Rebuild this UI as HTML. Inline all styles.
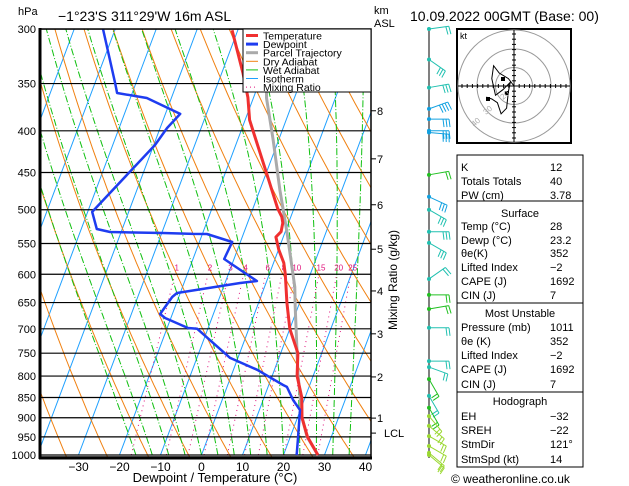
<!DOCTYPE html>
<html><head><meta charset="utf-8"><style>
html,body{margin:0;padding:0;background:#fff;}
svg{display:block;font-family:"Liberation Sans",sans-serif;}
</style></head><body>
<svg id="chart" width="629" height="486" viewBox="0 0 629 486" xmlns="http://www.w3.org/2000/svg">
<defs><clipPath id="plotclip"><rect x="40" y="29" width="331" height="428"/></clipPath></defs>
<rect width="629" height="486" fill="#fff"/>
<g id="bg" clip-path="url(#plotclip)"></g>
<g id="prof" clip-path="url(#plotclip)"></g>
<g id="axes"></g>
<g id="legend"></g>
<g id="wind"></g>
<g id="hodo"></g>
<g id="table"></g>
<text x="18" y="15" font-size="11">hPa</text>
<text x="58" y="21" font-size="14">−1°23'S  311°29'W  16m  ASL</text>
<text x="374" y="14" font-size="11">km</text>
<text x="374" y="27" font-size="11">ASL</text>
<text x="410" y="21" font-size="14">10.09.2022  00GMT  (Base: 00)</text>
<text x="215" y="482" font-size="13" text-anchor="middle">Dewpoint / Temperature (°C)</text>
<text transform="translate(397,280) rotate(-90)" font-size="12" text-anchor="middle">Mixing Ratio (g/kg)</text>
<text x="451" y="483" font-size="12">© weatheronline.co.uk</text>
</svg>
<script>
const tempP=[301,340,364,388,410,451,498,510,519,532,540,560,581,600,650,700,750,800,850,900,950,1000];
const tempT=[-31.4,-24.8,-21.4,-18.9,-15.6,-9.9,-4.0,-2.2,-1.4,-1.0,-1.8,0.1,2.5,3.9,6.9,10.0,14.2,16.1,19.2,21.1,24.2,28.4];
const dewP=[300,349.5,359.5,364.6,381.4,396.9,416.4,503,528,532.4,534,535.4,535.5,547.7,574.7,584.5,611.6,615,632.6,639.8,671.3,678.9,698.4,700,760,786,820.5,825,856,880.5,950,991.5,1000];
const dewT=[-63.0,-55.1,-53.7,-46.0,-36.4,-38.3,-39.7,-48.9,-46.2,-42.7,-29.7,-22.3,-18.9,-12.0,-12.4,-9.7,-2.4,-6.3,-20.8,-21.6,-23.0,-21.4,-14.9,-12.6,-1.9,5.8,13.5,14.6,17.3,19.9,21.9,23.0,23.2];
const parcelP=[359,364.6,410,473,533,622,658,793,898,950,1000];
const parcelT=[-17.3,-16.8,-11.4,-5.1,0.5,7.4,9.3,16.0,21.0,24.1,28.4];
const pressureTicks=[300,350,400,450,500,550,600,650,700,750,800,850,900,950,1000];
const tempTicks=[-30,-20,-10,0,10,20,30,40];
const mixRatios=[1,2,3,4,6,8,10,15,20,25];
const kmLabels=["8","7","6","5","4","3","2","1","LCL"];
const kmP=[378,433,493,559,629,710,802,901,940];
const windP=[300,327,354,376,387,400,402,453,482,500,532,549,608,636,662,698,767,780,807,846,875,896,921,948,975,994,1000];
const windAng=[-8,35,-10,-20,0,0,5,-10,25,30,0,30,-35,0,-10,0,0,20,60,60,60,50,40,30,30,40,40];
const windBarbs=[2,3,3,4,3,3,3,2,3,3,3,3,2,2,2,2,2,2,2,2,2,2,2,2,2,2,2];
const hodoU=[0,-3,-8,-11,-12,-10,-6,-2,-3,-4,-7,-9,-12,-15];
const hodoV=[0,-4,-7,-11,-4,5,2,-2,3,12,15,9,7,6];

const NS="http://www.w3.org/2000/svg";
function el(tag,attrs,parent){const e=document.createElementNS(NS,tag);for(const k in attrs)e.setAttribute(k,attrs[k]);parent.appendChild(e);return e;}
function Y(p){return 29+426*Math.log(p/300)/Math.log(10/3);}
function X(T,p){return 201.5+4.1*T+0.375*(455-Y(p));}
const bg=document.getElementById('bg'),prof=document.getElementById('prof'),axes=document.getElementById('axes');

for(let t=-110;t<=40;t+=10){const l=el('line',{x1:X(t,1000),y1:Y(1000),x2:X(t,300),y2:Y(300),stroke:'#1ea0ff','stroke-width':1},bg);

}
for(let th=230;th<=470;th+=10){let d='';for(let p=1050;p>=290;p-=10){const T=th*Math.pow(p/1000,0.286)-273.15;d+=(d?'L':'M')+X(T,p).toFixed(1)+','+Y(p).toFixed(1);}
const l=el('path',{d:d,fill:'none',stroke:'#f08010','stroke-width':1},bg);

}
function rs(T,p){const e=6.112*Math.exp(17.67*(T-273.15)/(T-29.65));return 0.622*e/(p-e);}
for(let t0=-16;t0<=36;t0+=4){let T=t0+273.15,p=1000,d='M'+X(t0,1000).toFixed(1)+','+Y(1000).toFixed(1);
while(p>290){const r=rs(T,p);const dT=(1/p)*(287*T+2.5e6*r)/(1004+2.5e6*2.5e6*r*0.622/(287*T*T));T-=dT*5;p-=5;d+='L'+X(T-273.15,p).toFixed(1)+','+Y(p).toFixed(1);}
const l=el('path',{d:d,fill:'none',stroke:'#10c010','stroke-width':1,'stroke-dasharray':'7,2,1,2'},bg);

}
function tdw(w,p){const e=w*p/(622+w);const a=Math.log(e/6.112);return 243.5*a/(17.67-a);}
mixRatios.forEach(w=>{const l=el('line',{x1:X(tdw(w,1000),1000),y1:Y(1000),x2:X(tdw(w,600),600),y2:Y(600),stroke:'#e0107a','stroke-width':1,'stroke-dasharray':'1,4'},bg);


const t=el('text',{x:X(tdw(w,600),600)+2,y:Y(600)-4,fill:'#e0107a','font-size':8,'text-anchor':'middle'},bg);t.textContent=w;

});
pressureTicks.forEach(p=>{const l=el('line',{x1:40,x2:371,y1:Y(p),y2:Y(p),stroke:'#000','stroke-width':1.2},bg);

});
function poly(P,T,col,w,name){const pts=P.map((p,i)=>X(T[i],p).toFixed(1)+','+Y(p).toFixed(1)).join(' ');
const l=el('polyline',{points:pts,fill:'none',stroke:col,'stroke-width':w,'stroke-linejoin':'round'},prof);

}
poly(parcelP,parcelT,'#aaaaaa',3,'parcel-trajectory');
poly(tempP,tempT,'#f03030',3,'temperature-line');
poly(dewP,dewT,'#1e3cf0',2.5,'dewpoint-line');
const fr=el('rect',{x:40,y:29,width:331,height:428,fill:'none',stroke:'#000','stroke-width':1.5},axes);


el('line',{x1:40,y1:28,x2:40,y2:459,stroke:'#000','stroke-width':3},axes);
el('line',{x1:39,y1:458,x2:372,y2:458,stroke:'#000','stroke-width':3},axes);
pressureTicks.forEach(p=>{const t=el('text',{x:36,y:Y(p)+4,'font-size':11,'text-anchor':'end'},axes);t.textContent=p;

});
tempTicks.forEach(tv=>{const t=el('text',{x:X(tv,1000),y:471,'font-size':12,'text-anchor':'middle'},axes);t.textContent=(tv<0?'−'+(-tv):tv);

});
kmLabels.forEach((k,i)=>{const y=Y(kmP[i]);el('line',{x1:371,x2:376,y1:y,y2:y,stroke:'#000'},axes);
const t=el('text',{x:k==='LCL'?384:377,y:y+4,'font-size':11},axes);t.textContent=k;

});
const lg=document.getElementById('legend');
el('rect',{x:243,y:29,width:128,height:63,fill:'#fff',stroke:'#000','stroke-width':1},lg);
const legN=['Temperature','Dewpoint','Parcel Trajectory','Dry Adiabat','Wet Adiabat','Isotherm','Mixing Ratio'];
const legC=['#f03030','#1e3cf0','#aaaaaa','#f08010','#10c010','#1ea0ff','#e0107a'];
const legW=[3,3,3,1,1,1,1];
legN.forEach((n,i)=>{const y=35.5+i*8.6;const ln=el('line',{x1:246,x2:258,y1:y,y2:y,stroke:legC[i],'stroke-width':legW[i]},lg);if(i==6)ln.setAttribute('stroke-dasharray','1,3');
const t=el('text',{x:263,y:y+4,'font-size':10.5},lg);t.textContent=n;

});
const wd=document.getElementById('wind');
el('line',{x1:429,y1:29,x2:429,y2:458,stroke:'#000','stroke-width':1},wd);
windP.forEach((p,i)=>{const y=Y(p),a=windAng[i]*Math.PI/180;const col=i>=21?'#9ad830':(i==7||i==13||i==14||(i>=18&&i%2==0)?'#20c020':((i>=3&&i<=6)||i==8?'#10a0e0':'#20c0b0'));
el('circle',{cx:429,cy:y,r:2,fill:col},wd);const ex=429+20*Math.cos(a),ey=y+20*Math.sin(a);
const sh=el('line',{x1:429,y1:y,x2:ex,y2:ey,stroke:col,'stroke-width':1},wd);


for(let k=0;k<windBarbs[i];k++){const bx=ex-k*3*Math.cos(a),by=ey-k*3*Math.sin(a);el('line',{x1:bx,y1:by,x2:bx-8*Math.sin(a)+1,y2:by+8*Math.cos(a),stroke:col,'stroke-width':1},wd);}});
const hd=document.getElementById('hodo');const cx=514,cy=86;
el('rect',{x:457,y:29,width:114,height:114,fill:'#fff',stroke:'#000','stroke-width':2},hd);
[18.5,37,56].forEach(r=>el('circle',{cx:cx,cy:cy,r:r,fill:'none',stroke:'#999','stroke-width':1},hd));
el('line',{x1:458,x2:570,y1:cy,y2:cy,stroke:'#000'},hd);el('line',{x1:cx,x2:cx,y1:30,y2:142,stroke:'#000'},hd);
for(let k=-10;k<=10;k++){if(!k)continue;el('line',{x1:cx+k*5.2,x2:cx+k*5.2,y1:cy-2,y2:cy+2,stroke:'#000'},hd);el('line',{y1:cy+k*5.2,y2:cy+k*5.2,x1:cx-2,x2:cx+2,stroke:'#000'},hd);}
const kt=el('text',{x:460,y:39,'font-size':9},hd);kt.textContent='kt';
const hp=hodoU.map((u,i)=>(cx+u*1.85).toFixed(1)+','+(cy+hodoV[i]*1.85).toFixed(1)).join(' ');
const ht=el('polyline',{points:hp,fill:'none',stroke:'#000','stroke-width':1},hd);


[[503,79],[507,93],[488,99]].forEach(q=>el('rect',{x:q[0]-2,y:q[1]-2,width:4,height:4,fill:'#000'},hd));
[['40',474,127],['30',486,115],['20',503,100]].forEach(s=>{const t=el('text',{x:s[1],y:s[2],'font-size':8,fill:'#aaa',transform:'rotate(-40 '+s[1]+' '+s[2]+')'},hd);t.textContent=s[0];});
const tb=document.getElementById('table');
[[155,201],[201,303],[303,392],[392,467]].forEach(b=>el('rect',{x:457,y:b[0],width:126,height:b[1]-b[0],fill:'#fff',stroke:'#000','stroke-width':1},tb));
const rows=[['K','12',167],['Totals Totals','40',181],['PW (cm)','3.78',195],['*Surface','',213],['Temp (°C)','28',226],['Dewp (°C)','23.2',240],['θe(K)','352',253],['Lifted Index','−2',267],['CAPE (J)','1692',281],['CIN (J)','7',295],
['*Most Unstable','',313],['Pressure (mb)','1011',327],['θe (K)','352',341],['Lifted Index','−2',355],['CAPE (J)','1692',369],['CIN (J)','7',384],['*Hodograph','',401],['EH','−32',416],['SREH','−22',430],['StmDir','121°',444],['StmSpd (kt)','14',459]];
rows.forEach(r=>{if(r[0][0]==='*'){const t=el('text',{x:520,y:r[2]+4,'font-size':11,'text-anchor':'middle'},tb);t.textContent=r[0].slice(1);

return;}
const a=el('text',{x:461,y:r[2]+4,'font-size':11},tb);a.textContent=r[0];


const b=el('text',{x:550,y:r[2]+4,'font-size':11},tb);b.textContent=r[1];

});
</script>
</body></html>
